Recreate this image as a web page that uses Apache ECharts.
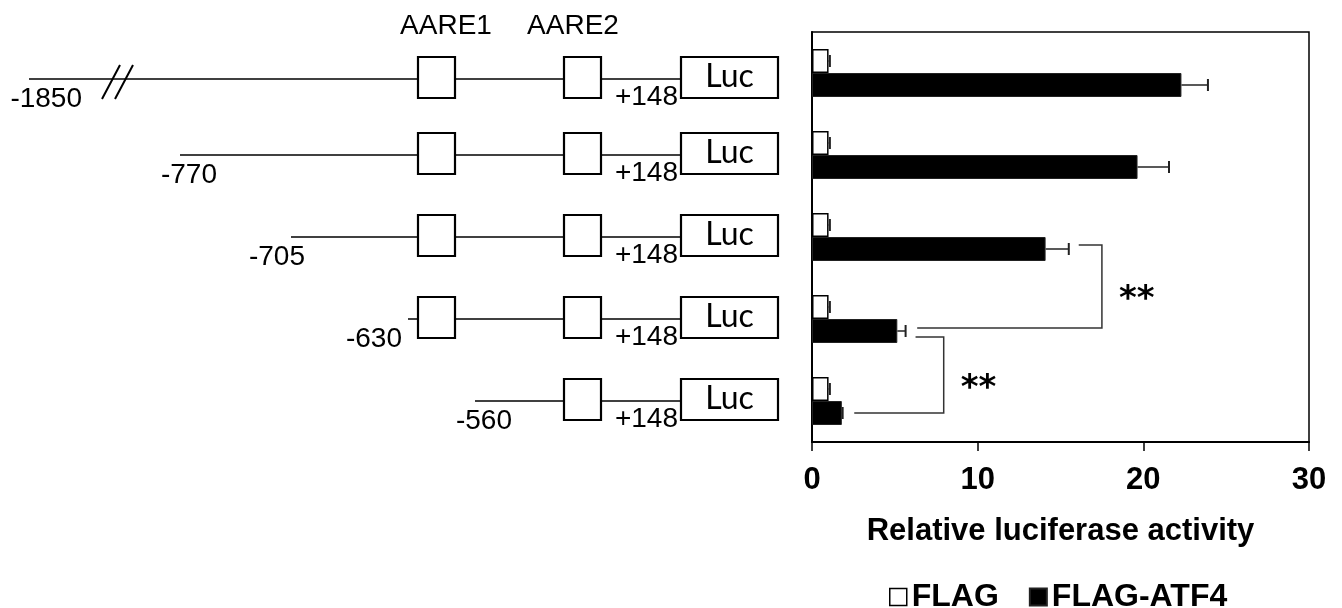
<!DOCTYPE html>
<html>
<head>
<meta charset="utf-8">
<script src="https://cdn.jsdelivr.net/npm/echarts@6/dist/echarts.min.js"></script>
<style>
  html, body { margin: 0; padding: 0; background: #fff; }
  #chart { width: 1342px; height: 608px; }
</style>
</head>
<body>
<div id="chart"></div>
<script>
// Promoter deletion constructs (5' end of each fragment)
const constructs = ['-1850', '-770', '-705', '-630', '-560'];
const hasAare1 = [true, true, true, true, false];
const hasAare2 = [true, true, true, true, true];
const elementNames = ['AARE1', 'AARE2'];
const fragmentEnd = '+148';
const reporterName = 'Luc';

// Relative luciferase activity (mean and SD)
const seriesNames = ['FLAG', 'FLAG-ATF4'];
const flagMean = [1.0, 1.0, 1.0, 1.0, 1.0];
const flagSd = [0.08, 0.08, 0.08, 0.08, 0.08];
const atf4Mean = [22.3, 19.65, 14.1, 5.15, 1.8];
const atf4Sd = [1.6, 1.9, 1.4, 0.5, 0.05];

// Axis ticks
const xTicks = [0, 10, 20, 30];

// Significance comparisons between FLAG-ATF4 bars: [upper row, lower row, label]
const comparisons = [[2, 3, '**'], [3, 4, '**']];
const bracketSpineX = [17.5, 7.95];

// Diagram geometry, in units of the hidden diagram axis (0..800)
const DIAG = {
  lineStart: [29, 180, 291, 408, 475],
  labelRight: [82, 217, 305, 402, 512],
  rowNudge: [6, 0, 0, 0, 0],
  breakX: [102, 115],
  aare1: [418, 455],
  aare2: [564, 601],
  luc: [681, 778],
  endLabelRight: 678,
  elementLabelX: [446, 573]
};

const FONT = '"Liberation Sans", Arial, sans-serif';
const BAR_W = 24;

const chart = echarts.init(document.getElementById('chart'), null, { renderer: 'canvas' });

function renderDiagram(params, api) {
  const row = api.value(1);
  const y = api.coord([0, row])[1] + DIAG.rowNudge[row];
  const X = v => api.coord([v, row])[0];
  const thin = { stroke: '#000', lineWidth: 1.5 };
  const box = { fill: '#fff', stroke: '#000', lineWidth: 2.2 };
  const textStyle = (text, x, yy, align, font) => ({
    type: 'text',
    style: { text, x, y: yy, align, verticalAlign: 'middle', font, fill: '#000' }
  });
  const kids = [];
  kids.push({ type: 'line', shape: { x1: X(DIAG.lineStart[row]), y1: y, x2: X(DIAG.luc[0]), y2: y }, style: thin });
  if (row === 0) {
    // axis break on the long fragment
    DIAG.breakX.forEach(bx => {
      kids.push({ type: 'line', shape: { x1: X(bx), y1: y + 20, x2: X(bx + 18), y2: y - 14 }, style: { stroke: '#000', lineWidth: 2 } });
    });
    elementNames.forEach((nm, k) => {
      kids.push(textStyle(nm, X(DIAG.elementLabelX[k]), y - 53, 'center', '28px ' + FONT));
    });
  }
  const boxes = [];
  if (hasAare1[row]) boxes.push(DIAG.aare1);
  if (hasAare2[row]) boxes.push(DIAG.aare2);
  boxes.forEach(b => {
    kids.push({ type: 'rect', shape: { x: X(b[0]), y: y - 22, width: X(b[1]) - X(b[0]), height: 41 }, style: box });
  });
  kids.push({ type: 'rect', shape: { x: X(DIAG.luc[0]), y: y - 22, width: X(DIAG.luc[1]) - X(DIAG.luc[0]), height: 41 }, style: box });
  kids.push(textStyle(reporterName, (X(DIAG.luc[0]) + X(DIAG.luc[1])) / 2, y - 2, 'center', '32px Lato, "Open Sans", sans-serif'));
  kids.push(textStyle(fragmentEnd, X(DIAG.endLabelRight), y + 18, 'right', '28px ' + FONT));
  kids.push(textStyle(constructs[row], X(DIAG.labelRight[row]), y + 20, 'right', '28px ' + FONT));
  return { type: 'group', children: kids };
}

function errorRenderer(offset) {
  return function (params, api) {
    const row = api.value(1);
    const m = api.value(0);
    const s = api.value(2);
    const p0 = api.coord([m, row]);
    const p1 = api.coord([m + s, row]);
    const y = p0[1] + offset;
    const st = { stroke: '#222', lineWidth: 1.5 };
    return {
      type: 'group',
      children: [
        { type: 'line', shape: { x1: p0[0], y1: y, x2: p1[0], y2: y }, style: st },
        { type: 'line', shape: { x1: p1[0], y1: y - 6, x2: p1[0], y2: y + 6 }, style: { stroke: '#222', lineWidth: 2 } }
      ]
    };
  };
}

function renderBracket(params, api) {
  const i = params.dataIndex;
  const upper = comparisons[i][0];
  const lower = comparisons[i][1];
  const label = comparisons[i][2];
  const sharedUpper = comparisons.some(c => c[1] === upper);
  const sharedLower = comparisons.some(c => c[0] === lower);
  const off = BAR_W / 2;
  const xUp = atf4Mean[upper] + atf4Sd[upper] + 0.6;
  const xLo = atf4Mean[lower] + atf4Sd[lower] + 0.7;
  const spine = bracketSpineX[i];
  const yUp = api.coord([0, upper])[1] + off + (sharedUpper ? 6 : -4);
  const yLo = api.coord([0, lower])[1] + off + (sharedLower ? -3 : 0);
  const xs = api.coord([spine, upper])[0];
  const st = { stroke: '#333', lineWidth: 1.5, fill: null };
  return {
    type: 'group',
    children: [
      { type: 'polyline', shape: { points: [[api.coord([xUp, upper])[0], yUp], [xs, yUp], [xs, yLo], [api.coord([xLo, lower])[0], yLo]] }, style: st },
      { type: 'text', style: { text: label, x: xs + api.size([2.1, 0])[0], y: (yUp + yLo) / 2 + 14, align: 'center', verticalAlign: 'middle', font: 'bold 34px "DejaVu Sans", sans-serif', fill: '#000' } }
    ]
  };
}

const option = {
  animation: false,
  backgroundColor: '#fff',
  grid: [
    { left: 812, right: 33, top: 32, bottom: 166, show: true, borderColor: '#000', borderWidth: 1.5, backgroundColor: 'transparent' },
    { left: 0, width: 800, top: 32, bottom: 166 }
  ],
  legend: {
    data: [
      { name: seriesNames[0], icon: 'rect', itemStyle: { color: '#fff', borderColor: '#000', borderWidth: 1.5 } },
      { name: seriesNames[1], icon: 'rect', itemStyle: { color: '#000' } }
    ],
    left: 884,
    top: 576,
    itemWidth: 17,
    itemHeight: 17,
    itemGap: 30,
    textStyle: { fontFamily: FONT, fontWeight: 'bold', fontSize: 32, color: '#000' },
    selectedMode: false
  },
  xAxis: [
    {
      gridIndex: 0, type: 'value', min: xTicks[0], max: xTicks[xTicks.length - 1], interval: xTicks[1] - xTicks[0],
      name: 'Relative luciferase activity', nameLocation: 'middle', nameGap: 74,
      nameTextStyle: { fontFamily: FONT, fontWeight: 'bold', fontSize: 31, color: '#000' },
      axisLine: { show: true, lineStyle: { color: '#000', width: 2 } },
      axisTick: { show: true, length: 9, lineStyle: { color: '#000', width: 1.5 } },
      axisLabel: { fontFamily: FONT, fontWeight: 'bold', fontSize: 31, color: '#000', margin: 23 },
      splitLine: { show: false }
    },
    { gridIndex: 1, type: 'value', min: 0, max: 800, show: false }
  ],
  yAxis: [
    {
      gridIndex: 0, type: 'category', inverse: true, data: constructs,
      axisLine: { show: true, lineStyle: { color: '#000', width: 2 } },
      axisTick: { show: false }, axisLabel: { show: false }, splitLine: { show: false }
    },
    { gridIndex: 1, type: 'category', inverse: true, data: constructs, show: false }
  ],
  series: [
    {
      name: seriesNames[0], type: 'bar', xAxisIndex: 0, yAxisIndex: 0,
      data: flagMean, barWidth: BAR_W, barGap: '0%',
      itemStyle: { color: '#fff', borderColor: '#000', borderWidth: 1.5 }
    },
    {
      name: seriesNames[1], type: 'bar', xAxisIndex: 0, yAxisIndex: 0,
      data: atf4Mean, barWidth: BAR_W, barGap: '0%',
      itemStyle: { color: '#000', borderColor: '#222', borderWidth: 1 }
    },
    {
      type: 'custom', xAxisIndex: 0, yAxisIndex: 0, z: 5,
      renderItem: errorRenderer(-BAR_W / 2),
      encode: { x: 0, y: 1 },
      data: flagMean.map((m, i) => [m, i, flagSd[i]])
    },
    {
      type: 'custom', xAxisIndex: 0, yAxisIndex: 0, z: 5,
      renderItem: errorRenderer(BAR_W / 2),
      encode: { x: 0, y: 1 },
      data: atf4Mean.map((m, i) => [m, i, atf4Sd[i]])
    },
    {
      type: 'custom', xAxisIndex: 0, yAxisIndex: 0, z: 5,
      renderItem: renderBracket,
      encode: { x: 0, y: 1 },
      data: comparisons.map(c => [0, c[0]])
    },
    {
      type: 'custom', xAxisIndex: 1, yAxisIndex: 1, z: 3,
      renderItem: renderDiagram,
      encode: { x: 0, y: 1 },
      data: constructs.map((c, i) => [0, i])
    }
  ]
};

chart.setOption(option);
</script>
</body>
</html>
